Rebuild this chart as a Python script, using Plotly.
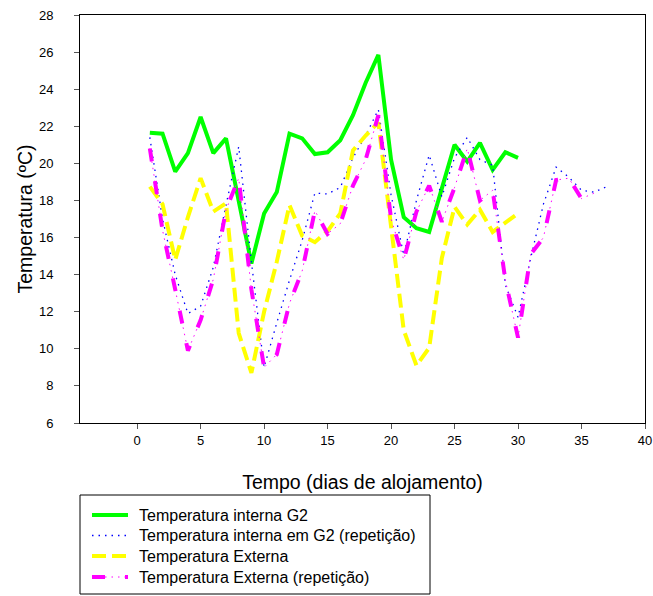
import plotly.graph_objects as go

# ---- data ----
days_g2 = list(range(1, 31))
temp_g2 = [21.65, 21.6, 19.55, 20.55, 22.5, 20.55, 21.35, 18.0, 14.6, 17.3,
           18.45, 21.6, 21.35, 20.5, 20.6, 21.25, 22.6, 24.35, 25.85, 20.2,
           17.1, 16.5, 16.3, 18.65, 21.0, 20.1, 21.1, 19.65, 20.6, 20.3]

days_g2_rep = list(range(1, 38))
temp_g2_rep = [21.4, 17.0, 14.0, 11.9, 12.3, 14.4, 17.75, 20.9, 14.7, 9.0,
               11.4, 13.7, 15.85, 18.4, 18.35, 18.7, 20.3, 21.5, 22.9, 18.3,
               15.05, 18.0, 20.45, 18.2, 20.3, 21.4, 20.2, 19.9, 13.45, 11.7,
               14.9, 17.8, 19.8, 19.25, 18.55, 18.45, 18.75]

days_ext = list(range(1, 31))
temp_ext = [18.75, 17.8, 14.8, 17.1, 19.2, 17.4, 17.85, 10.85, 8.7, 12.0,
            14.7, 17.75, 16.1, 15.75, 16.35, 17.3, 20.7, 21.5, 22.2, 16.8,
            11.0, 9.1, 10.05, 14.9, 17.65, 16.7, 17.5, 16.3, 16.8, 17.3]

days_ext_rep = list(range(1, 37))
temp_ext_rep = [20.8, 16.4, 13.2, 9.9, 11.55, 13.75, 17.5, 19.2, 13.2, 9.0,
                9.7, 12.45, 14.2, 17.45, 16.2, 16.75, 18.8, 20.2, 22.6, 17.0,
                14.8, 17.4, 18.8, 16.85, 18.7, 20.8, 18.0, 18.55, 13.7, 10.6,
                15.1, 16.0, 19.1, 19.2, 18.1, 18.4]

x_ticks = [0, 5, 10, 15, 20, 25, 30, 35, 40]
y_ticks = [6, 8, 10, 12, 14, 16, 18, 20, 22, 24, 26, 28]

names = ["Temperatura interna G2",
         "Temperatura interna em G2 (repetição)",
         "Temperatura Externa",
         "Temperatura Externa (repetição)"]

FONT = "Arial, Liberation Sans, sans-serif"

# styles
GREEN = dict(color="#00FF00", width=4)
BLUE = dict(color="#0000FF", width=1.3, dash="1.5px,5px")
YELLOW = dict(color="#FFFF00", width=4, dash="14px,6px")
MAG_DOTS = dict(color="#FF00FF", width=1, dash="1.5px,5px")
MAG_DASH = dict(color="#FF00FF", width=4, dash="13px,20px")

fig = go.Figure()
fig.add_trace(go.Scatter(x=days_g2, y=temp_g2, mode="lines", name=names[0], line=GREEN))
fig.add_trace(go.Scatter(x=days_g2_rep, y=temp_g2_rep, mode="lines", name=names[1], line=BLUE))
fig.add_trace(go.Scatter(x=days_ext, y=temp_ext, mode="lines", name=names[2], line=YELLOW))
fig.add_trace(go.Scatter(x=days_ext_rep, y=temp_ext_rep, mode="lines", name=names[3],
                         line=MAG_DOTS))
fig.add_trace(go.Scatter(x=days_ext_rep, y=temp_ext_rep, mode="lines", name=names[3],
                         line=MAG_DASH))

# ---- plot geometry (pixels) ----
W, H = 653, 596
L, R, T, B = 80, 8, 15, 173
PW, PH = W - L - R, H - T - B


def px(x):
    return (x - L) / PW


def py(y):
    return (H - B - y) / PH


shapes = []
annotations = []
# legend box
shapes.append(dict(type="rect", xref="paper", yref="paper",
                   x0=px(80), x1=px(430), y0=py(594), y1=py(495),
                   line=dict(color="black", width=1), fillcolor="white", layer="above"))
legend_rows = [
    (515, [GREEN], names[0]),
    (535.5, [BLUE], names[1]),
    (556, [YELLOW], names[2]),
    (577, [MAG_DOTS, MAG_DASH], names[3]),
]
for yy, styles, label in legend_rows:
    for st in styles:
        shapes.append(dict(type="line", xref="paper", yref="paper",
                           x0=px(92), x1=px(128), y0=py(yy), y1=py(yy),
                           line=st, layer="above"))
    annotations.append(dict(xref="paper", yref="paper", x=px(137), y=py(yy),
                            xanchor="left", yanchor="middle", showarrow=False,
                            text=label, font=dict(family=FONT, size=16, color="black")))

fig.update_layout(
    width=W, height=H,
    margin=dict(l=L, r=R, t=T, b=B, autoexpand=False),
    plot_bgcolor="white", paper_bgcolor="white",
    font=dict(family=FONT, color="black", size=13),
    showlegend=False,
    shapes=shapes, annotations=annotations,
)

fig.update_xaxes(
    range=[-4.5, 40], tickvals=x_ticks, ticks="outside", ticklen=5,
    tickcolor="#555", showline=True, linecolor="black", linewidth=1, mirror=True,
    showgrid=False, zeroline=False, tickfont=dict(size=13),
    ticklabelstandoff=0, automargin=False,
    title=dict(text="Tempo (dias de alojamento)", font=dict(size=19.5), standoff=28),
)
fig.update_yaxes(
    range=[6, 28], tickvals=y_ticks, ticks="outside", ticklen=5,
    tickcolor="#555", showline=True, linecolor="black", linewidth=1, mirror=True,
    showgrid=False, zeroline=False, tickfont=dict(size=13),
    ticklabelstandoff=18, automargin=False,
    title=dict(text="Temperatura (ºC)", font=dict(size=19.5), standoff=1),
)

fig.write_html("out.html")
